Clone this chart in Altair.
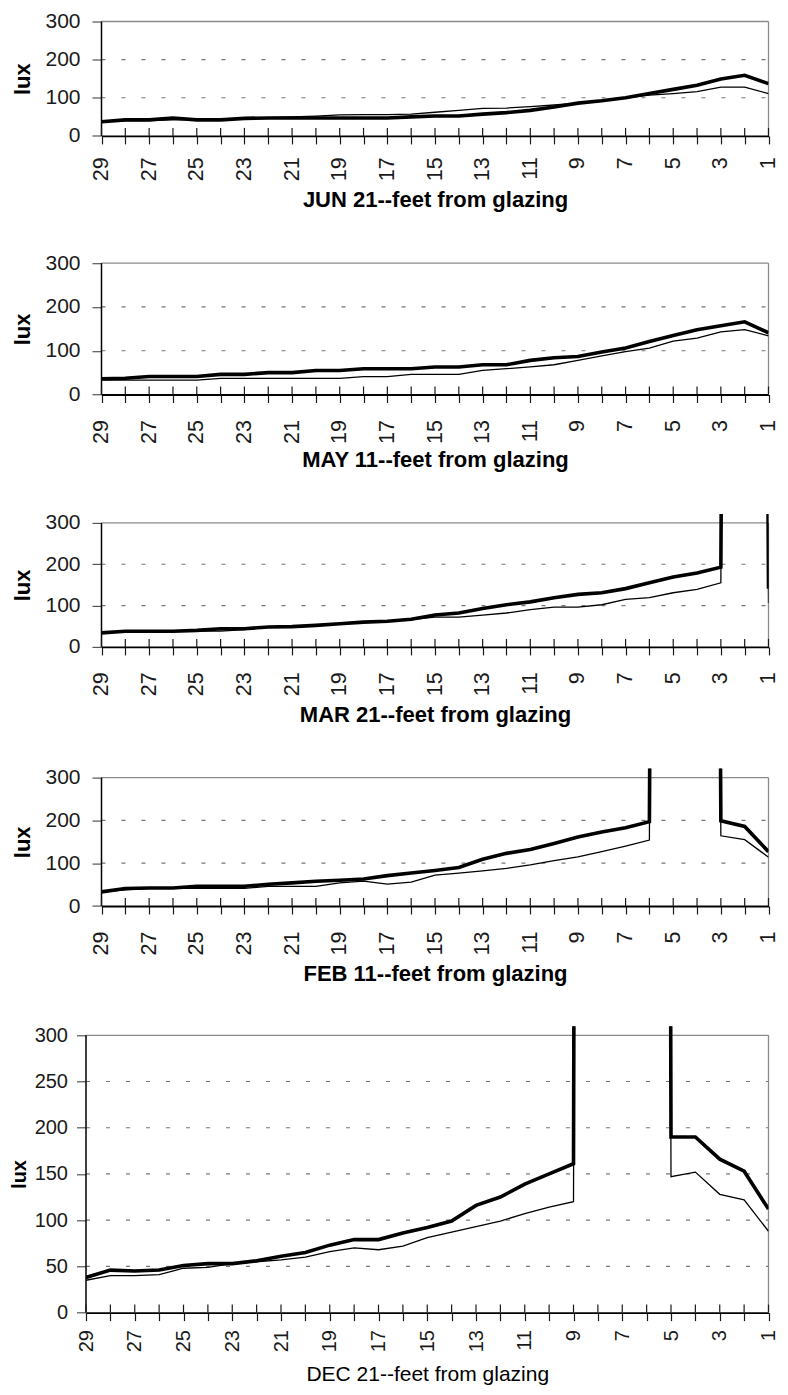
import altair as alt
import pandas as pd

# ---------------- data ----------------
feet = list(range(29, 0, -1))          # 29 ... 1 (feet from glazing)
BIG = 10000                            # off-scale (direct sun) readings

jun_thick = [37, 42, 42, 47, 42, 42, 46, 47, 47, 47, 47, 47, 47, 50, 52, 52, 57, 61, 67, 76, 86, 92, 100, 111, 122, 133, 149, 159, 137]
jun_thin = [37, 40, 40, 42, 42, 44, 46, 48, 50, 52, 55, 56, 56, 57, 62, 67, 72, 73, 77, 81, 86, 92, 100, 107, 111, 116, 128, 128, 111]

may_thick = [36, 37, 41, 41, 41, 46, 46, 50, 50, 55, 55, 59, 59, 59, 63, 63, 68, 68, 78, 84, 87, 97, 106, 121, 135, 148, 157, 166, 141]
may_thin = [33, 33, 33, 33, 33, 37, 37, 37, 37, 37, 37, 41, 41, 46, 46, 46, 55, 59, 63, 68, 78, 88, 98, 106, 122, 129, 143, 148, 134]

mar_thick = [34, 38, 38, 38, 40, 44, 44, 48, 49, 52, 56, 60, 62, 67, 77, 82, 93, 102, 109, 119, 127, 131, 141, 155, 169, 179, 193, BIG, 141]
mar_thin = [34, 38, 38, 38, 38, 38, 42, 48, 48, 52, 56, 60, 62, 66, 72, 72, 77, 82, 90, 96, 96, 102, 115, 119, 131, 139, 155, BIG, 106]

feb_thick = [33, 41, 42, 42, 46, 46, 46, 51, 54, 58, 60, 63, 71, 77, 83, 90, 109, 123, 132, 146, 161, 173, 183, 197, BIG, BIG, 199, 186, 127]
feb_thin = [33, 38, 41, 41, 41, 41, 41, 46, 46, 46, 54, 58, 51, 56, 72, 77, 82, 88, 96, 106, 115, 127, 140, 154, BIG, BIG, 164, 155, 114]

dec_thick = [38, 46, 45, 46, 51, 53, 53, 56, 61, 65, 73, 79, 79, 86, 92, 99, 116, 125, 139, 150, 161, BIG, BIG, BIG, 190, 190, 166, 153, 112]
dec_thin = [35, 40, 40, 41, 48, 49, 53, 55, 57, 60, 66, 70, 68, 72, 81, 87, 93, 99, 107, 114, 120, BIG, BIG, BIG, 147, 152, 128, 122, 88]

titles = ["JUN 21--feet from glazing", "MAY 11--feet from glazing", "MAR 21--feet from glazing",
          "FEB 11--feet from glazing", "DEC 21--feet from glazing"]
y_labels_small = [0, 100, 200, 300]
y_labels_dec = [0, 50, 100, 150, 200, 250, 300]
grid_small = [100, 200]
grid_dec = [50, 100, 150, 200, 250]

OV = 9  # pixels of plot area above the 300 line (lines are clipped there)
FONT = "Liberation Sans"
TICK = 8  # half length of the crossing x ticks, px


def make_panel(title, thick, thin, yvals, gridvals, h300, x0, width, style):
    H = h300 + OV
    ymax = 300.0 * H / h300
    up = TICK * ymax / H  # upper half of the crossing tick, in lux units
    df = pd.DataFrame({
        "feet": feet + feet,
        "lux": thick + thin,
        "series": ["thick"] * len(feet) + ["thin"] * len(feet),
    })
    xs = alt.Scale(domain=[1, 29], reverse=True, range=[x0, width], nice=False, zero=False)
    ys = alt.Scale(domain=[0, ymax], nice=False, zero=True)
    one = pd.DataFrame({"k": [0]})

    xaxis = alt.Axis(
        values=feet, format="d", labelExpr="datum.value % 2 == 1 ? datum.label : ''",
        domain=True, domainColor="black", domainWidth=1.8,
        ticks=True, tickSize=TICK, tickColor="#1a1a1a", tickWidth=1.2, grid=False,
        labelAngle=270, labelFont=FONT,
        labelFontSize=style["xl_fs"], labelColor="#1a1a1a", labelPadding=style["xl_pad"],
        labelFlush=False, labelOverlap=False, labelBound=False,
        title=title, titleFont=FONT, titleFontSize=style["xt_fs"],
        titleFontWeight=style["xt_w"], titleColor="black", titlePadding=style["xt_pad"],
    )
    yaxis = alt.Axis(
        values=yvals, format="d", domain=False, grid=False, ticks=True, tickSize=9.5,
        tickColor="#555555", tickWidth=1.2, labelFont=FONT,
        labelFontSize=style["yl_fs"], labelColor="#1a1a1a", labelPadding=style["yl_pad"],
        title="lux", titleFont=FONT, titleFontSize=style["yt_fs"],
        titleFontWeight="bold", titleColor="black", titlePadding=style["yt_pad"],
        minExtent=style["ext"], maxExtent=style["ext"], offset=-x0, titleY=OV + h300 / 2.0,
    )

    grid = alt.Chart(pd.DataFrame({"g": gridvals})).mark_rule(
        color="#777777", strokeDash=[4, 16], strokeWidth=1.2
    ).encode(
        x=alt.XDatum(29, scale=xs, axis=xaxis),
        x2=alt.X2Datum(1),
        y=alt.Y("g:Q", scale=ys, axis=yaxis),
    )
    top = alt.Chart(one).mark_rule(color="#8a8a8a", strokeWidth=1.3).encode(
        x=alt.XDatum(29, scale=xs, axis=xaxis), x2=alt.X2Datum(1),
        y=alt.YDatum(300, scale=ys, axis=yaxis),
    )
    right = alt.Chart(one).mark_rule(color="#8a8a8a", strokeWidth=1.3).encode(
        x=alt.XDatum(1, scale=xs, axis=xaxis),
        y=alt.YDatum(0, scale=ys, axis=yaxis), y2=alt.Y2Datum(300),
    )
    left = alt.Chart(one).mark_rule(color="black", strokeWidth=1.5).encode(
        x=alt.XDatum(29, scale=xs, axis=xaxis),
        y=alt.YDatum(0, scale=ys, axis=yaxis), y2=alt.Y2Datum(300),
    )
    lines = alt.Chart(df).mark_line(clip=True, color="black").encode(
        x=alt.X("feet:Q", scale=xs, axis=xaxis),
        y=alt.Y("lux:Q", scale=ys, axis=yaxis),
        strokeWidth=alt.StrokeWidth(
            "series:N", scale=alt.Scale(domain=["thick", "thin"], range=[style["thick"], 1.3]), legend=None
        ),
        detail="series:N",
    )
    ticks_up = alt.Chart(pd.DataFrame({"feet": feet, "y0": [0] * len(feet), "y1": [up] * len(feet)})).mark_rule(
        color="#1a1a1a", strokeWidth=1.2
    ).encode(
        x=alt.X("feet:Q", scale=xs, axis=xaxis),
        y=alt.Y("y0:Q", scale=ys, axis=yaxis),
        y2="y1:Q",
    )
    return alt.layer(grid, top, right, lines, left, ticks_up).properties(width=width, height=H)


small = dict(xl_fs=21.5, xl_pad=17, xt_fs=22, xt_w="bold", xt_pad=8,
             yl_fs=21, yl_pad=12, yt_fs=22, yt_pad=10.5, ext=57, thick=3.6)
p1_style = dict(small, xl_pad=13, xt_pad=8.8)
p2_style = dict(small, xt_pad=6)
p3_style = dict(small, xt_pad=9)
p4_style = dict(small, xt_pad=8.5)
dec_style = dict(xl_fs=20, xl_pad=9, xt_fs=21, xt_w="normal", xt_pad=12,
                 yl_fs=20, yl_pad=9, yt_fs=20, yt_pad=6, ext=51, thick=4.0)

W = 682.5
p1 = make_panel(titles[0], jun_thick, jun_thin, y_labels_small, grid_small, 114.4, 15.5, W, p1_style)
p2 = make_panel(titles[1], may_thick, may_thin, y_labels_small, grid_small, 131.3, 15.5, W, p2_style)
p3 = make_panel(titles[2], mar_thick, mar_thin, y_labels_small, grid_small, 124.0, 15.5, W, p3_style)
p4 = make_panel(titles[3], feb_thick, feb_thin, y_labels_small, grid_small, 128.4, 15.5, W, p4_style)
p5 = make_panel(titles[4], dec_thick, dec_thin, y_labels_dec, grid_dec, 277.3, 0, W, dec_style)

chart = alt.vconcat(p1, p2, p3, p4, p5, spacing=39.7).properties(
    padding={"left": 1, "top": 1.5, "right": 0.5, "bottom": 0}
).configure_view(strokeWidth=0)

chart.save("out.html", embed_options={"renderer": "svg", "actions": False})
